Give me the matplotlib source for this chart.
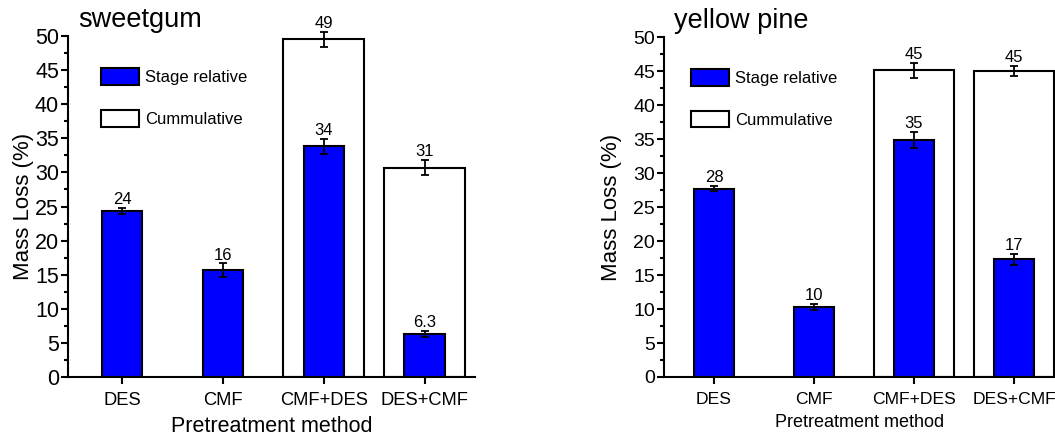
import matplotlib
matplotlib.use('Agg')
import matplotlib.pyplot as plt
from matplotlib.ticker import MultipleLocator
from matplotlib.patches import Patch

plt.rcParams['font.family'] = ['Liberation Sans', 'DejaVu Sans']

methods = ['DES', 'CMF', 'CMF+DES', 'DES+CMF']
cum_methods = ['CMF+DES', 'DES+CMF']

# sweetgum
sg_stage = [24.4, 15.7, 33.8, 6.3]
sg_stage_err = [0.45, 1.0, 1.15, 0.5]
sg_stage_lbl = ['24', '16', '34', '6.3']
sg_cum = [49.5, 30.7]
sg_cum_err = [1.1, 1.15]
sg_cum_lbl = ['49', '31']

# yellow pine
yp_stage = [27.7, 10.3, 34.9, 17.3]
yp_stage_err = [0.4, 0.5, 1.15, 0.8]
yp_stage_lbl = ['28', '10', '35', '17']
yp_cum = [45.1, 45.0]
yp_cum_err = [1.15, 0.8]
yp_cum_lbl = ['45', '45']


def plot_panel(ax, title, stage, stage_err, stage_lbl, cum, cum_err, cum_lbl,
               ytick_size, xtick_size, xlabel_size, ylab_x, leg_xy):
    x = list(range(len(methods)))
    cx = [methods.index(m) for m in cum_methods]

    ax.bar(cx, cum, width=0.8, color='white', edgecolor='black', linewidth=1.5, zorder=1)
    ax.bar(x, stage, width=0.4, color='#0000ff', edgecolor='black', linewidth=1.5, zorder=2)
    ax.errorbar(cx, cum, yerr=cum_err, fmt='none', ecolor='black', elinewidth=1.3,
                capsize=3, capthick=1.3, zorder=3, clip_on=False)
    ax.errorbar(x, stage, yerr=stage_err, fmt='none', ecolor='black', elinewidth=1.3,
                capsize=3, capthick=1.3, zorder=3)

    # value labels sit just above the error bars
    for xi, v, e, t in zip(x, stage, stage_err, stage_lbl):
        ax.annotate(t, (xi, v + e), xytext=(0, 2.5), textcoords='offset points',
                    ha='center', va='baseline', fontsize=12, annotation_clip=False)
    for xi, v, e, t in zip(cx, cum, cum_err, cum_lbl):
        ax.annotate(t, (xi, v + e), xytext=(0, 2.5), textcoords='offset points',
                    ha='center', va='baseline', fontsize=12, annotation_clip=False)

    ax.set_ylim(0, 50)
    ax.yaxis.set_major_locator(MultipleLocator(5))
    ax.yaxis.set_minor_locator(MultipleLocator(2.5))
    ax.set_xticks(x)
    ax.set_xticklabels(methods, fontsize=xtick_size)
    ax.tick_params(axis='y', which='major', length=5, width=1.5, labelsize=ytick_size, pad=1.5)
    ax.tick_params(axis='y', which='minor', length=3, width=1.5)
    ax.tick_params(axis='x', which='major', length=5, width=1.5, pad=6)

    for s in ['top', 'right']:
        ax.spines[s].set_visible(False)
    for s in ['left', 'bottom']:
        ax.spines[s].set_linewidth(1.5)

    ax.set_ylabel('Mass Loss (%)', fontsize=16)
    ax.yaxis.set_label_coords(ylab_x, 0.5)
    ax.set_xlabel('Pretreatment method', fontsize=xlabel_size, labelpad=5)
    ax.text(0.025, 1.027, title, transform=ax.transAxes, fontsize=19.5,
            ha='left', va='baseline')

    handles = [Patch(facecolor='#0000ff', edgecolor='black', linewidth=1.5),
               Patch(facecolor='white', edgecolor='black', linewidth=1.5)]
    ax.legend(handles, ['Stage relative', 'Cummulative'], loc='upper left',
              bbox_to_anchor=leg_xy, frameon=False, borderpad=0, borderaxespad=0,
              handlelength=2.3, handleheight=1.15, labelspacing=1.5,
              handletextpad=0.35, fontsize=12)


fig = plt.figure(figsize=(10.55, 4.37), dpi=100)
ax1 = fig.add_axes([0.0645, 0.1373, 0.3858, 0.7803])
ax2 = fig.add_axes([0.6294, 0.1373, 0.3706, 0.7780])

plot_panel(ax1, 'sweetgum', sg_stage, sg_stage_err, sg_stage_lbl,
           sg_cum, sg_cum_err, sg_cum_lbl, 15.5, 13.2, 15.5, -0.083, (0.081, 0.906))
ax1.set_xlim(-0.535, 3.5)

plot_panel(ax2, 'yellow pine', yp_stage, yp_stage_err, yp_stage_lbl,
           yp_cum, yp_cum_err, yp_cum_lbl, 14, 12.6, 13, -0.108, (0.069, 0.906))
ax2.set_xlim(-0.5, 3.41)

fig.savefig('out.png', dpi=100)
